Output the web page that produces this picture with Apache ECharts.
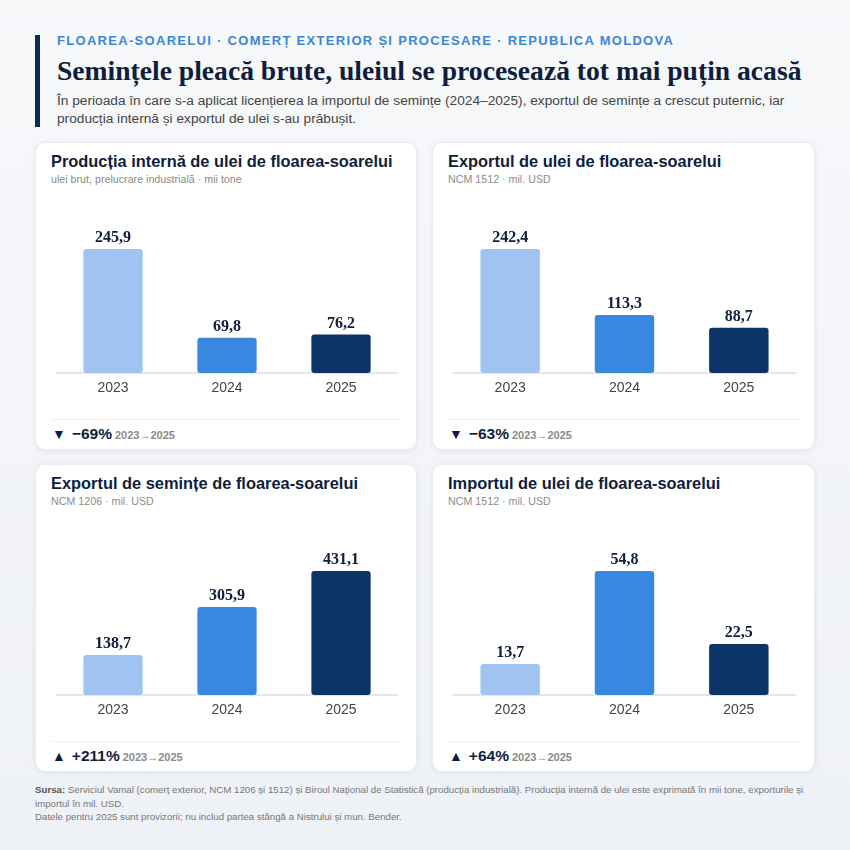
<!DOCTYPE html>
<html><head><meta charset="utf-8">
<script src="https://cdn.jsdelivr.net/npm/echarts@6/dist/echarts.min.js"></script>
<style>
html,body{margin:0;padding:0;}
body{width:850px;height:850px;position:relative;overflow:hidden;background:linear-gradient(180deg,#f7f8fa 0%,#eef1f6 100%);font-family:"Liberation Sans",Arial,sans-serif;}
#accent{position:absolute;left:35px;top:35px;width:5px;height:92px;background:#0d2b55;}
#kicker{position:absolute;left:57px;top:33px;font-size:13px;font-weight:bold;letter-spacing:1.3px;color:#3a86d8;white-space:nowrap;}
#title{position:absolute;left:57px;top:55px;font-family:"Liberation Serif","Times New Roman",serif;font-weight:bold;font-size:27.6px;color:#0f1e3d;white-space:nowrap;}
#sub{position:absolute;left:57px;top:92px;width:760px;font-size:13.7px;line-height:18px;color:#444;}
.card{position:absolute;width:382px;height:308px;background:#fff;border-radius:10px;box-shadow:0 1px 5px rgba(20,40,80,0.08);border:1px solid #e9ecf1;box-sizing:border-box;}
.ct{position:absolute;left:15px;top:9px;font-size:16.4px;font-weight:bold;color:#0f1e3d;white-space:nowrap;}
.cs{position:absolute;left:15px;top:30px;font-size:10.7px;color:#8c8c8c;white-space:nowrap;}
.chart{position:absolute;left:0;top:40px;width:382px;height:230px;}
.div{position:absolute;left:15px;right:15px;top:276px;height:1px;background:#eef0f3;}
.st{position:absolute;left:16px;top:282px;white-space:nowrap;color:#0f1e3d;}
.st .a{font-size:14px;margin-right:6px;}
.st .p{font-size:15.5px;font-weight:bold;}
.st .y{font-size:11px;font-weight:bold;color:#8a8a8a;margin-left:3px;}
#foot{position:absolute;left:35px;top:783px;width:775px;font-size:9.7px;line-height:13.5px;color:#777;}
#foot b{color:#555;}
</style></head><body>
<div id="accent"></div>
<div id="kicker">FLOAREA-SOARELUI · COMERȚ EXTERIOR ȘI PROCESARE · REPUBLICA MOLDOVA</div>
<div id="title">Semințele pleacă brute, uleiul se procesează tot mai puțin acasă</div>
<div id="sub">În perioada în care s-a aplicat licențierea la importul de semințe (2024–2025), exportul de semințe a crescut puternic, iar producția internă și exportul de ulei s-au prăbușit.</div>

<div class="card" style="left:35px;top:142px;"><div class="ct">Producția internă de ulei de floarea-soarelui</div><div class="cs">ulei brut, prelucrare industrială · mii tone</div><div class="chart" id="c1"></div><div class="div"></div><div class="st"><span class="a">▼</span><span class="p">−69%</span><span class="y">2023→2025</span></div></div>
<div class="card" style="left:432px;top:142px;width:383px;"><div class="ct">Exportul de ulei de floarea-soarelui</div><div class="cs">NCM 1512 · mil. USD</div><div class="chart" id="c2" style="width:383px"></div><div class="div"></div><div class="st"><span class="a">▼</span><span class="p">−63%</span><span class="y">2023→2025</span></div></div>
<div class="card" style="left:35px;top:464px;"><div class="ct">Exportul de semințe de floarea-soarelui</div><div class="cs">NCM 1206 · mil. USD</div><div class="chart" id="c3"></div><div class="div"></div><div class="st"><span class="a">▲</span><span class="p">+211%</span><span class="y">2023→2025</span></div></div>
<div class="card" style="left:432px;top:464px;width:383px;"><div class="ct">Importul de ulei de floarea-soarelui</div><div class="cs">NCM 1512 · mil. USD</div><div class="chart" id="c4" style="width:383px"></div><div class="div"></div><div class="st"><span class="a">▲</span><span class="p">+64%</span><span class="y">2023→2025</span></div></div>

<div id="foot"><b>Sursa:</b> Serviciul Vamal (comerț exterior, NCM 1206 și 1512) și Biroul Național de Statistică (producția industrială). Producția internă de ulei este exprimată în mii tone, exporturile și importul în mil. USD.<br>Datele pentru 2025 sunt provizorii; nu includ partea stângă a Nistrului și mun. Bender.</div>

<script>
const years = ["2023","2024","2025"];
const oilProduction = [245.9, 69.8, 76.2];
const oilExport = [242.4, 113.3, 88.7];
const seedExport = [138.7, 305.9, 431.1];
const oilImport = [13.7, 54.8, 22.5];
const barColors = ["#9fc4f2","#3a87e1","#0d3467"];

function draw(id, values){
  const chart = echarts.init(document.getElementById(id), null, {renderer:'canvas'});
  chart.setOption({
    animation:false,
    grid:{left:20,right:20,top:66,bottom:40},
    xAxis:{type:'category',data:years,
      axisLine:{lineStyle:{color:'#dcdfe4',width:1.5}},
      axisTick:{show:false},
      axisLabel:{color:'#444',fontSize:14,margin:8,fontFamily:'Liberation Sans, Arial, sans-serif'}},
    yAxis:{type:'value',min:0,max:function(v){return v.max;},show:false,splitLine:{show:false}},
    series:[{type:'bar',barWidth:'52%',
      data:values.map((v,i)=>({value:v,itemStyle:{color:barColors[i],borderRadius:3}})),
      label:{show:true,position:'top',distance:3,color:'#0f1e3d',fontSize:16,fontWeight:'bold',
        fontFamily:'Liberation Serif, Times New Roman, serif',
        formatter:p=>p.value.toFixed(1).replace('.',',')}}]
  });
}
draw('c1', oilProduction);
draw('c2', oilExport);
draw('c3', seedExport);
draw('c4', oilImport);
</script>
</body></html>
